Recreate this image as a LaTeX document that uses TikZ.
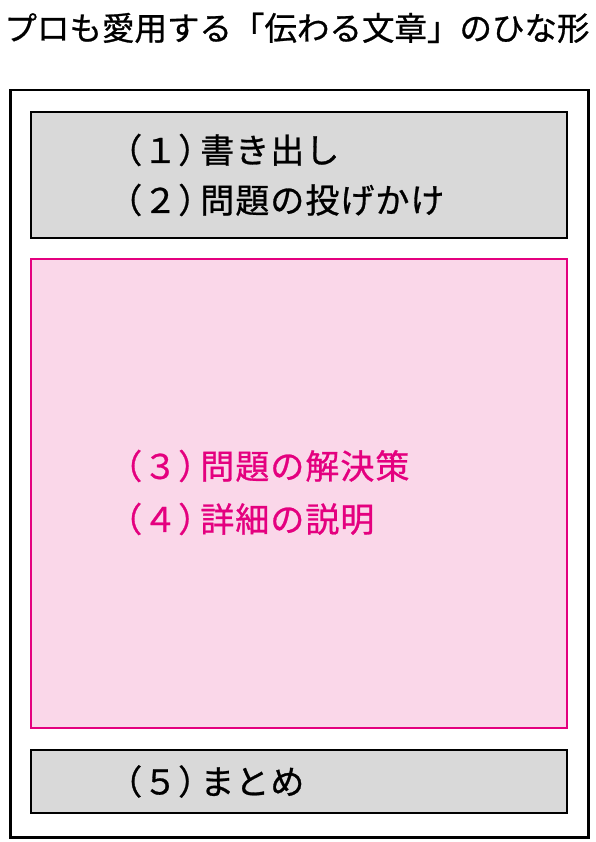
\documentclass[tikz,border=0pt]{standalone}
\usepackage{fontspec}
\setmainfont{Noto Sans CJK JP}[FakeBold=0.8]
\newfontfamily\itemfont{Noto Sans CJK JP}[FakeBold=0.8, LetterSpace=3]
\usetikzlibrary{positioning}
\definecolor{boxgray}{RGB}{217,217,217}
\definecolor{softpink}{RGB}{250,215,233}
\definecolor{accent}{RGB}{228,0,127}

\newcommand{\num}[1]{（#1）\kern-0.35em}

\begin{document}
\begin{tikzpicture}[x=1pt, y=1pt,
	box/.style={draw, inner sep=0pt, minimum width=536pt, anchor=north west},
	item/.style={anchor=west, inner sep=0pt, text height=30pt, text depth=4.2pt, font=\itemfont\fontsize{34}{34}\selectfont}]
	\useasboundingbox (0,0) rectangle (595,-842);
	\node[inner sep=0pt, text height=28.5pt, text depth=4pt, font=\fontsize{32.5}{32.5}\selectfont] (title) at (297,-28) {プロも愛用する「伝わる文章」のひな形};
	\node[draw, line width=2.5pt, inner sep=0pt, minimum width=578pt, minimum height=747pt, anchor=north west] (frame) at (9,-89) {};
	\node[box, line width=2pt, fill=boxgray, minimum height=126pt] (top) at (30,-111) {};
	\node[box, line width=1.5pt, draw=accent, fill=softpink, minimum height=469pt] (mid) at (30,-258) {};
	\node[box, line width=2pt, fill=boxgray, minimum height=63pt] (bottom) at (30,-749) {};
	\node[item] (s1) at ([xshift=78pt, yshift=-39pt]top.north west) {\num{１}書き出し};
	\node[item] (s2) at ([xshift=78pt, yshift=-89pt]top.north west) {\num{２}問題の投げかけ};
	\node[item, text=accent] (s3) at ([xshift=78pt, yshift=-208pt]mid.north west) {\num{３}問題の解決策};
	\node[item, text=accent] (s4) at ([xshift=78pt, yshift=-261pt]mid.north west) {\num{４}詳細の説明};
	\node[item] (s5) at ([xshift=78pt]bottom.west) {\num{５}まとめ};
\end{tikzpicture}
\end{document}
